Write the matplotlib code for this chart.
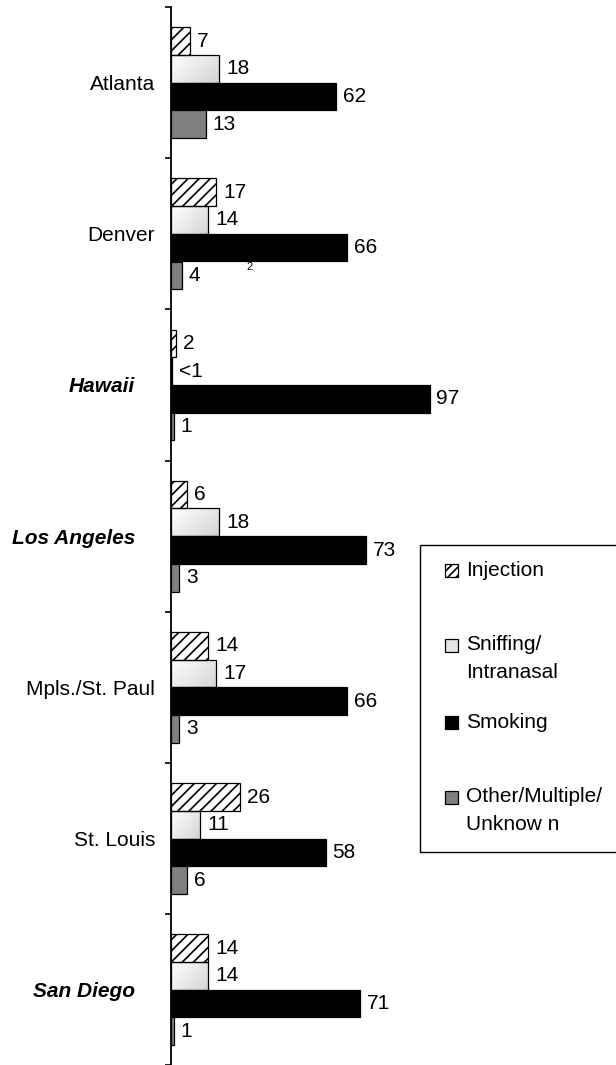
import numpy as np
import matplotlib
matplotlib.use("Agg")
import matplotlib.pyplot as plt
from matplotlib.patches import Rectangle
from matplotlib.transforms import ScaledTranslation

plt.rcParams["font.family"] = ["Liberation Sans", "DejaVu Sans"]
plt.rcParams["hatch.linewidth"] = 1.2

# Route of administration (%) by area
cities = ["Atlanta", "Denver", "Hawaii", "Los Angeles",
          "Mpls./St. Paul", "St. Louis", "San Diego"]
emphasized = ["Hawaii", "Los Angeles", "San Diego"]
injection = [7, 17, 2, 6, 14, 26, 14]
sniffing = [18, 14, 0.5, 18, 17, 11, 14]   # 0.5 stands for "<1"
smoking = [62, 66, 97, 73, 66, 58, 71]
other = [13, 4, 1, 3, 3, 6, 1]
series_names = ["Injection", "Sniffing/\nIntranasal", "Smoking",
                "Other/Multiple/\nUnknow n"]

FS = 15
W, H, DPI = 616, 1065, 100
fig = plt.figure(figsize=(W / DPI, H / DPI), dpi=DPI)
fig.patch.set_facecolor("white")


def px(x, y):
    """Pixel position (from top-left) to figure fraction."""
    return x / W, 1 - y / H


ax_left, ax_top = 171, 7
cat_px = 151.2
ax_h = cat_px * len(cities)
ax = fig.add_axes([ax_left / W, 1 - (ax_top + ax_h) / H,
                   (W - ax_left) / W, ax_h / H])

y = np.arange(len(cities))
bh = 27.7 / cat_px
offsets = np.array([-1.5, -0.5, 0.5, 1.5]) * bh
edge_kw = dict(edgecolor="black", linewidth=0.9)

b_inj = ax.barh(y + offsets[0], injection, height=bh, facecolor="white",
                hatch="///", zorder=3, **edge_kw)
b_sni = ax.barh(y + offsets[1], sniffing, height=bh, facecolor="none",
                zorder=3, **edge_kw)
b_smo = ax.barh(y + offsets[2], smoking, height=bh, facecolor="black",
                zorder=3, **edge_kw)
b_oth = ax.barh(y + offsets[3], other, height=bh, facecolor="#808080",
                zorder=3, **edge_kw)

xmax = (W - ax_left) / 2.665

# soft diagonal shading inside the sniffing bars
n = 64
u = np.linspace(0, 1, n)
g = 1.0 - 0.17 * (u[None, :] * 0.6 + u[:, None] * 0.4)
grad = np.dstack([g, g, g])
for rect in b_sni.patches:
    x0, y0 = rect.get_xy()
    w, hh = rect.get_width(), rect.get_height()
    im = ax.imshow(grad, extent=[x0, x0 + w, y0 + hh, y0], origin="upper",
                   aspect="auto", interpolation="bilinear", zorder=2)
    im.set_clip_path(rect)
ax.set_xlim(0, xmax)
ax.set_ylim(len(cities) - 0.5, -0.5)
ax.set_aspect("auto")


def fmt(v):
    return "<1" if v < 1 else f"{v:g}"


for cont, vals in [(b_inj, injection), (b_sni, sniffing),
                   (b_smo, smoking), (b_oth, other)]:
    ax.bar_label(cont, labels=[fmt(v) for v in vals], padding=5,
                 fontsize=FS, color="black")

# axes styling
for s in ["top", "right", "bottom"]:
    ax.spines[s].set_visible(False)
ax.spines["left"].set_linewidth(1.3)
ax.set_xticks([])
ax.set_yticks(np.arange(len(cities) + 1) - 0.5)
ax.set_yticklabels([])
ax.tick_params(axis="y", which="major", direction="out", length=4.3,
               width=1.2)
ax.set_yticks(y, minor=True)
ax.set_yticklabels(cities, minor=True, fontsize=FS)
ax.tick_params(axis="y", which="minor", length=0, pad=11.5)
for lab in ax.get_yticklabels(minor=True):
    if lab.get_text() in emphasized:
        lab.set_fontweight("bold")
        lab.set_fontstyle("italic")
        lab.set_transform(lab.get_transform() +
                          ScaledTranslation(-0.2, 0, fig.dpi_scale_trans))

# footnote marker near the Denver bars
fig.text(*px(250, 267), "2", fontsize=8, ha="center", va="center")

# legend box
bx0, by0, bx1, by1 = 420, 545, 630, 852
fig.add_artist(Rectangle(px(bx0, by1), (bx1 - bx0) / W, (by1 - by0) / H,
                         transform=fig.transFigure, facecolor="white",
                         edgecolor="black", linewidth=1.0, zorder=5))
marker_styles = [dict(facecolor="white", hatch="////"),
                 dict(facecolor="#e4e4e4"),
                 dict(facecolor="black"),
                 dict(facecolor="#808080")]
entry_y = [570, 645, 722, 797]
ms = 13
for name, sty, ey in zip(series_names, marker_styles, entry_y):
    fig.add_artist(Rectangle(px(445, ey + ms / 2), ms / W, ms / H,
                             transform=fig.transFigure, edgecolor="black",
                             linewidth=0.9, zorder=6, **sty))
    for k, line in enumerate(name.split("\n")):
        fig.text(*px(466, ey + 28 * k), line, fontsize=FS, ha="left",
                 va="center", zorder=6)

fig.savefig("out.png", dpi=DPI)
